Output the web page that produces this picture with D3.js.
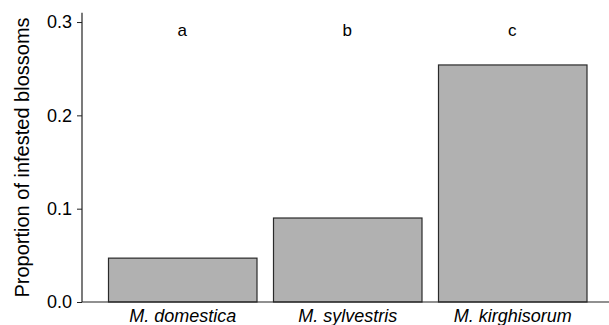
<!DOCTYPE html>
<html><head><meta charset="utf-8">
<script src="https://cdn.jsdelivr.net/npm/d3@7"></script>
<style>body{margin:0;background:#fff}svg{display:block}text{font-family:"Liberation Sans",Arial,sans-serif;fill:#000}</style>
</head><body>
<script>
const categories = ["M. domestica", "M. sylvestris", "M. kirghisorum"];
const values = [0.047, 0.09, 0.254];
const letters = ["a", "b", "c"];
const yTicks = [0.0, 0.1, 0.2, 0.3];
const yLabel = "Proportion of infested blossoms";

const W = 609, H = 325;
const svg = d3.select("body").append("svg").attr("width", W).attr("height", H);

const y = d3.scaleLinear().domain([0, 0.31]).range([302, 12.7]);
const x = d3.scaleBand().domain(categories).range([91.5, 603]).paddingInner(0.1).paddingOuter(0.1);

svg.selectAll("rect.bar").data(values).join("rect")
  .attr("class", "bar")
  .attr("x", (d, i) => x(categories[i]) + 0.5)
  .attr("width", x.bandwidth())
  .attr("y", d => y(d))
  .attr("height", d => y(0) - y(d))
  .attr("fill", "#b1b1b1").attr("stroke", "#2a2a2a").attr("stroke-width", 1.2);

// y axis
const yAxis = d3.axisLeft(y).tickValues(yTicks).tickFormat(d3.format(".1f")).tickSizeOuter(0).tickSize(5).tickPadding(5);
const gy = svg.append("g").attr("transform", "translate(82,0)").call(yAxis);
gy.select(".domain").remove();
gy.append("line").attr("x1", 0).attr("x2", 0).attr("y1", y(0.31)).attr("y2", y(0)).attr("stroke", "#222").attr("stroke-width", 1.2);
gy.selectAll(".tick line").attr("stroke", "#222");
gy.selectAll(".tick text").attr("font-size", 18).attr("fill", "#000").attr("font-family", "Liberation Sans, Arial, sans-serif");

// x axis
const xAxis = d3.axisBottom(x).tickSize(0).tickPadding(7);
const gx = svg.append("g").attr("transform", `translate(0.5,${y(0)})`).call(xAxis);
gx.select(".domain").remove();
gx.selectAll(".tick text").attr("font-size", 18).attr("font-style", "italic").attr("fill", "#000").attr("font-family", "Liberation Sans, Arial, sans-serif");
svg.append("line").attr("x1", 82).attr("x2", 609).attr("y1", y(0)).attr("y2", y(0)).attr("stroke", "#222").attr("stroke-width", 1.2);

// letters
svg.selectAll("text.letter").data(letters).join("text")
  .attr("class", "letter")
  .attr("x", (d, i) => x(categories[i]) + x.bandwidth() / 2)
  .attr("y", 36)
  .attr("text-anchor", "middle").attr("font-size", 17)
  .text(d => d);

// y label
svg.append("text")
  .attr("transform", `translate(29,157.5) rotate(-90)`)
  .attr("text-anchor", "middle").attr("font-size", 20)
  .text(yLabel);
</script>
</body></html>
